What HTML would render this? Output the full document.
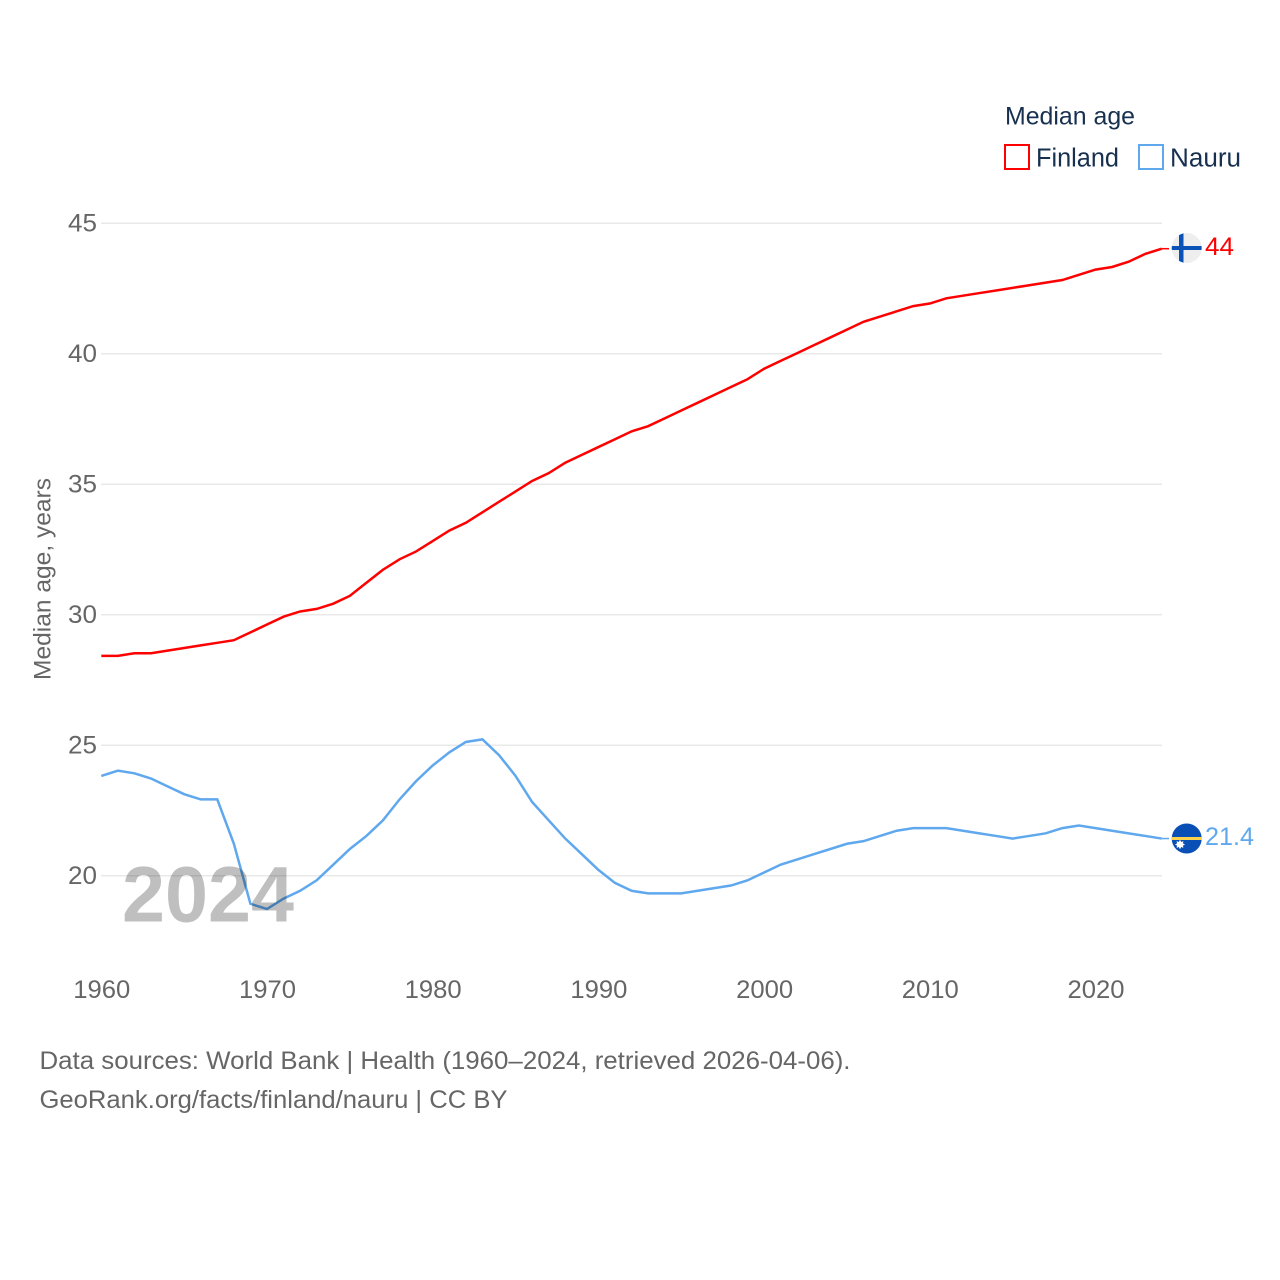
<!DOCTYPE html>
<html lang="en">
<head>
<meta charset="utf-8">
<title>Median age: Finland and Nauru</title>
<style>
html,body{margin:0;padding:0;background:#fff;}
svg{display:block;font-family:"Liberation Sans",Arial,sans-serif;}
</style>
</head>
<body>
<svg id="chart" width="1280" height="1280" viewBox="0 0 1280 1280" xmlns="http://www.w3.org/2000/svg">
  <rect x="0" y="0" width="1280" height="1280" fill="#fff"/>
  <g id="grid"></g>
  <g id="yticks"></g>
  <g id="xticks"></g>
  <text transform="translate(50.5,680) rotate(-90)" font-size="24" fill="#666" textLength="202" lengthAdjust="spacingAndGlyphs">Median age, years</text>
  <g id="series" transform="translate(0,-0.6)"></g>
  <text id="year-label" x="122" y="921.5" font-size="79" font-weight="700" fill="#000" fill-opacity="0.25" textLength="172" lengthAdjust="spacingAndGlyphs">2024</text>

  <g id="flag-finland">
    <clipPath id="clip-fi"><circle id="fi-clip-circle" cx="1186.7" cy="248" r="15"/></clipPath>
    <g clip-path="url(#clip-fi)">
      <rect x="1170" y="232" width="34" height="32" fill="#eeeeee"/>
      <rect x="1170" y="246" width="34" height="4" fill="#0a52b5"/>
      <rect x="1179" y="232" width="4.5" height="32" fill="#0a52b5"/>
    </g>
  </g>
  <g id="flag-nauru">
    <clipPath id="clip-na"><circle cx="1186.7" cy="838.5" r="15"/></clipPath>
    <g clip-path="url(#clip-na)">
      <rect x="1170" y="822" width="34" height="34" fill="#0a4fb5"/>
      <rect x="1170" y="837" width="34" height="3" fill="#ffd34d"/>
      <polygon points="1180,839.8 1181.2,842 1183.4,841.1 1182.9,843.4 1185,844.5 1182.9,845.6 1183.4,847.9 1181.2,847 1180,849.2 1178.8,847 1176.6,847.9 1177.1,845.6 1175,844.5 1177.1,843.4 1176.6,841.1 1178.8,842" fill="#fff"/>
    </g>
  </g>

  <text id="end-fi" x="1205" y="255" font-size="25" fill="#ff0000" textLength="29" lengthAdjust="spacingAndGlyphs"></text>
  <text id="end-na" x="1205" y="845" font-size="25" fill="#5fa8ee" textLength="49" lengthAdjust="spacingAndGlyphs"></text>

  <g>
    <text x="1005" y="124.5" font-size="25" fill="#17304f" textLength="130" lengthAdjust="spacingAndGlyphs">Median age</text>
    <g>
      <rect x="1005" y="145" width="24" height="24" fill="#fff" stroke="#ff0000" stroke-width="2"/>
      <text x="1036" y="166.5" font-size="25.5" fill="#17304f" textLength="83" lengthAdjust="spacingAndGlyphs">Finland</text>
    </g>
    <g>
      <rect x="1139" y="145" width="24" height="24" fill="#fff" stroke="#5fa8ee" stroke-width="2"/>
      <text x="1170" y="166.5" font-size="25.5" fill="#17304f" textLength="71" lengthAdjust="spacingAndGlyphs">Nauru</text>
    </g>
  </g>

  <text x="39.5" y="1069" font-size="25" fill="#666" textLength="811" lengthAdjust="spacingAndGlyphs">Data sources: World Bank | Health (1960–2024, retrieved 2026-04-06).</text>
  <text x="39.5" y="1108" font-size="25" fill="#666" textLength="468" lengthAdjust="spacingAndGlyphs">GeoRank.org/facts/finland/nauru | CC BY</text>
</svg>
<script>
const startYear = 1960;
const xTickLabels = [1960, 1970, 1980, 1990, 2000, 2010, 2020];
const yTickLabels = [20, 25, 30, 35, 40, 45];
const finlandValues = [28.4,28.4,28.5,28.5,28.6,28.7,28.8,28.9,29.0,29.3,29.6,29.9,30.1,30.2,30.4,30.7,31.2,31.7,32.1,32.4,32.8,33.2,33.5,33.9,34.3,34.7,35.1,35.4,35.8,36.1,36.4,36.7,37.0,37.2,37.5,37.8,38.1,38.4,38.7,39.0,39.4,39.7,40.0,40.3,40.6,40.9,41.2,41.4,41.6,41.8,41.9,42.1,42.2,42.3,42.4,42.5,42.6,42.7,42.8,43.0,43.2,43.3,43.5,43.8,44.0];
const nauruValues = [23.8,24.0,23.9,23.7,23.4,23.1,22.9,22.9,21.2,18.9,18.7,19.1,19.4,19.8,20.4,21.0,21.5,22.1,22.9,23.6,24.2,24.7,25.1,25.2,24.6,23.8,22.8,22.1,21.4,20.8,20.2,19.7,19.4,19.3,19.3,19.3,19.4,19.5,19.6,19.8,20.1,20.4,20.6,20.8,21.0,21.2,21.3,21.5,21.7,21.8,21.8,21.8,21.7,21.6,21.5,21.4,21.5,21.6,21.8,21.9,21.8,21.7,21.6,21.5,21.4];
const finlandEndLabel = "44";
const nauruEndLabel = "21.4";

const NS = "http://www.w3.org/2000/svg";
function xScale(year) { return 101.3 + (year - 1960) * 16.57; }
function yScale(value) { return 875.7 - (value - 20) * 26.1; }

const gridGroup = document.getElementById("grid");
const yGroup = document.getElementById("yticks");
const xGroup = document.getElementById("xticks");
const seriesGroup = document.getElementById("series");

yTickLabels.forEach(function (v) {
  const line = document.createElementNS(NS, "line");
  
  
  line.setAttribute("x1", 101);
  line.setAttribute("x2", 1162);
  line.setAttribute("y1", yScale(v));
  line.setAttribute("y2", yScale(v));
  line.setAttribute("stroke", "#e9e9e9");
  line.setAttribute("stroke-width", "1.5");
  gridGroup.appendChild(line);

  const t = document.createElementNS(NS, "text");
  
  
  t.setAttribute("x", 68);
  t.setAttribute("y", yScale(v) + 8.5);
  t.setAttribute("font-size", "25");
  t.setAttribute("fill", "#666");
  t.setAttribute("textLength", "29");
  t.setAttribute("lengthAdjust", "spacingAndGlyphs");
  t.textContent = v;
  yGroup.appendChild(t);
});

xTickLabels.forEach(function (y) {
  const t = document.createElementNS(NS, "text");
  
  
  t.setAttribute("x", xScale(y) - 28);
  t.setAttribute("y", 998);
  t.setAttribute("font-size", "25");
  t.setAttribute("fill", "#666");
  t.setAttribute("textLength", "57");
  t.setAttribute("lengthAdjust", "spacingAndGlyphs");
  t.textContent = y;
  xGroup.appendChild(t);
});

function pathFor(values) {
  return values.map(function (v, i) {
    return (i ? "L" : "M") + xScale(startYear + i).toFixed(2) + " " + yScale(v).toFixed(2);
  }).join(" ");
}

const finlandPath = document.createElementNS(NS, "path");


finlandPath.setAttribute("d", pathFor(finlandValues));
finlandPath.setAttribute("fill", "none");
finlandPath.setAttribute("stroke", "#ff0000");
finlandPath.setAttribute("stroke-width", "2.5");
seriesGroup.appendChild(finlandPath);

const nauruPath = document.createElementNS(NS, "path");


nauruPath.setAttribute("d", pathFor(nauruValues));
nauruPath.setAttribute("fill", "none");
nauruPath.setAttribute("stroke", "#5fa8ee");
nauruPath.setAttribute("stroke-width", "2.5");
seriesGroup.appendChild(nauruPath);

const lastYear = startYear + finlandValues.length - 1;

const finlandConnector = document.createElementNS(NS, "line");


finlandConnector.setAttribute("x1", xScale(lastYear));
finlandConnector.setAttribute("x2", 1169);
finlandConnector.setAttribute("y1", yScale(finlandValues[finlandValues.length - 1]));
finlandConnector.setAttribute("y2", yScale(finlandValues[finlandValues.length - 1]));
finlandConnector.setAttribute("stroke", "#ff0000");
finlandConnector.setAttribute("stroke-width", "1.5");
seriesGroup.appendChild(finlandConnector);

const nauruConnector = document.createElementNS(NS, "line");


nauruConnector.setAttribute("x1", xScale(lastYear));
nauruConnector.setAttribute("x2", 1169);
nauruConnector.setAttribute("y1", yScale(nauruValues[nauruValues.length - 1]));
nauruConnector.setAttribute("y2", yScale(nauruValues[nauruValues.length - 1]));
nauruConnector.setAttribute("stroke", "#5fa8ee");
nauruConnector.setAttribute("stroke-width", "1.5");
seriesGroup.appendChild(nauruConnector);

document.getElementById("end-fi").textContent = finlandEndLabel;
document.getElementById("end-na").textContent = nauruEndLabel;
</script>
</body>
</html>
